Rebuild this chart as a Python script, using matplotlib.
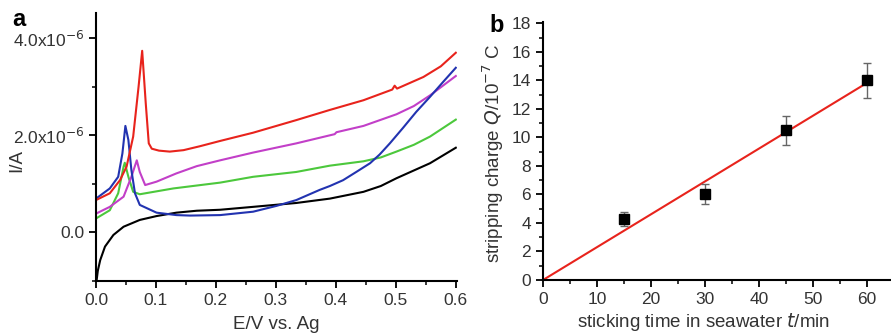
import matplotlib
matplotlib.use("Agg")
import matplotlib.pyplot as plt
import numpy as np
from matplotlib.ticker import MultipleLocator

plt.rcParams['font.family'] = ['Liberation Sans', 'DejaVu Sans']

# panel a: stripping voltammograms, E in V, I in 1e-6 A
black_E = [0.001, 0.003, 0.007, 0.015, 0.029, 0.046, 0.073, 0.101, 0.134, 0.168, 0.207, 0.262, 0.334, 0.39, 0.446, 0.475, 0.501, 0.557, 0.6]
black_I = [-1.0, -0.8, -0.58, -0.30, -0.06, 0.11, 0.25, 0.33, 0.40, 0.44, 0.46, 0.52, 0.60, 0.69, 0.83, 0.95, 1.11, 1.42, 1.74]

green_E = [0, 0.023, 0.037, 0.046, 0.048, 0.054, 0.062, 0.073, 0.129, 0.207, 0.262, 0.334, 0.39, 0.446, 0.475, 0.501, 0.53, 0.557, 0.6]
green_I = [0.28, 0.45, 0.80, 1.35, 1.43, 1.14, 0.83, 0.78, 0.90, 1.02, 1.14, 1.24, 1.37, 1.46, 1.54, 1.66, 1.80, 1.97, 2.32]

magenta_E = [0, 0.023, 0.046, 0.059, 0.068, 0.073, 0.082, 0.101, 0.134, 0.168, 0.207, 0.262, 0.334, 0.398, 0.401, 0.446, 0.501, 0.53, 0.557, 0.6]
magenta_I = [0.38, 0.52, 0.73, 1.14, 1.48, 1.24, 0.97, 1.04, 1.21, 1.36, 1.48, 1.64, 1.83, 2.02, 2.06, 2.19, 2.43, 2.60, 2.82, 3.22]

blue_E = [0, 0.023, 0.037, 0.044, 0.049, 0.054, 0.059, 0.065, 0.073, 0.101, 0.134, 0.157, 0.207, 0.262, 0.301, 0.334, 0.373, 0.39, 0.412, 0.434, 0.457, 0.473, 0.49, 0.512, 0.534, 0.557, 0.579, 0.6]
blue_I = [0.69, 0.90, 1.14, 1.62, 2.19, 1.90, 1.28, 0.80, 0.56, 0.40, 0.35, 0.34, 0.35, 0.42, 0.54, 0.66, 0.87, 0.95, 1.07, 1.24, 1.42, 1.60, 1.83, 2.15, 2.48, 2.79, 3.10, 3.39]

red_E = [0, 0.023, 0.04, 0.051, 0.062, 0.071, 0.077, 0.083, 0.088, 0.093, 0.105, 0.123, 0.146, 0.173, 0.207, 0.262, 0.334, 0.39, 0.446, 0.494, 0.498, 0.502, 0.546, 0.575, 0.6]
red_I = [0.66, 0.80, 1.07, 1.35, 1.97, 3.0, 3.74, 2.65, 1.83, 1.72, 1.68, 1.66, 1.69, 1.77, 1.88, 2.05, 2.31, 2.52, 2.72, 2.94, 3.02, 2.96, 3.20, 3.42, 3.70]

# panel b: stripping charge vs sticking time
t_min = [15, 30, 45, 60]
charge = [4.3, 6.0, 10.5, 14.0]
charge_err = [0.5, 0.7, 1.0, 1.2]

fig = plt.figure(figsize=(8.91, 3.36), dpi=100)
tick_col = '#333333'
lab_fs = 13.5

# ---- panel a
ax1 = fig.add_axes([96/891, 1-281/336, 361/891, 268/336])
curves = [(black_E, black_I, 'black'),
          (green_E, green_I, '#4cc83c'),
          (magenta_E, magenta_I, '#c23fc8'),
          (blue_E, blue_I, '#2233b0'),
          (red_E, red_I, '#e8231c')]
for E, I, c in curves:
    ax1.plot(E, np.array(I)*1e-6, color=c, lw=1.5)
ax1.set_xlim(0, 0.602)
ax1.set_ylim(-1.01e-6, 4.52e-6)
ax1.set_xticks([0.0, 0.1, 0.2, 0.3, 0.4, 0.5, 0.6])
ax1.set_xticklabels(['0.0', '0.1', '0.2', '0.3', '0.4', '0.5', '0.6'])
ax1.xaxis.set_minor_locator(MultipleLocator(0.05))
ax1.set_yticks([0, 2e-6, 4e-6])
ax1.set_yticklabels(['0.0', '2.0x10$^{-6}$', '4.0x10$^{-6}$'])
ax1.yaxis.set_minor_locator(MultipleLocator(1e-6))
ax1.set_xlabel('E/V vs. Ag', fontsize=lab_fs, color=tick_col)
ax1.set_ylabel('I/A', fontsize=lab_fs, color=tick_col)
ax1.xaxis.set_label_coords(0.5, -0.13)
ax1.yaxis.set_label_coords(-0.197, 0.45)

# ---- panel b
ax2 = fig.add_axes([543/891, 1-280/336, 348/891, 258/336])
slope = np.dot(t_min, charge) / np.dot(t_min, t_min)
fit_t = np.array([0, t_min[-1]])
ax2.plot(fit_t, slope*fit_t, color='#e8231c', lw=1.5, zorder=2)
ax2.errorbar(t_min, charge, yerr=charge_err, fmt='s', color='black', ms=6.5,
             ecolor='#666666', elinewidth=1.0, capsize=3, capthick=1.0, zorder=3)
ax2.set_xlim(0, 64.4)
ax2.set_ylim(0, 18.1)
ax2.set_xticks(range(0, 61, 10))
ax2.xaxis.set_minor_locator(MultipleLocator(5))
ax2.set_yticks(range(0, 19, 2))
ax2.yaxis.set_minor_locator(MultipleLocator(1))
ax2.set_xlabel('sticking time in seawater $\\it{t}$/min', fontsize=lab_fs, color=tick_col)
ax2.set_ylabel('stripping charge $\\it{Q}$/10$^{-7}$ C', fontsize=lab_fs, color=tick_col)
ax2.xaxis.set_label_coords(0.46, -0.122)
ax2.yaxis.set_label_coords(-0.106, 0.49)

for ax in (ax1, ax2):
    for s in ('top', 'right'):
        ax.spines[s].set_visible(False)
    for s in ('left', 'bottom'):
        ax.spines[s].set_linewidth(1.5)
    ax.tick_params(which='major', direction='out', length=5, width=1.3,
                   labelsize=12.5, labelcolor=tick_col)
    ax.tick_params(which='minor', direction='out', length=3, width=1.1)

fig.text(12/891, 1-20/336, 'a', fontsize=17, fontweight='bold', va='center', ha='left')
fig.text(497/891, 1-25/336, 'b', fontsize=17, fontweight='bold', va='center', ha='center')

fig.savefig('out.png', dpi=100)
